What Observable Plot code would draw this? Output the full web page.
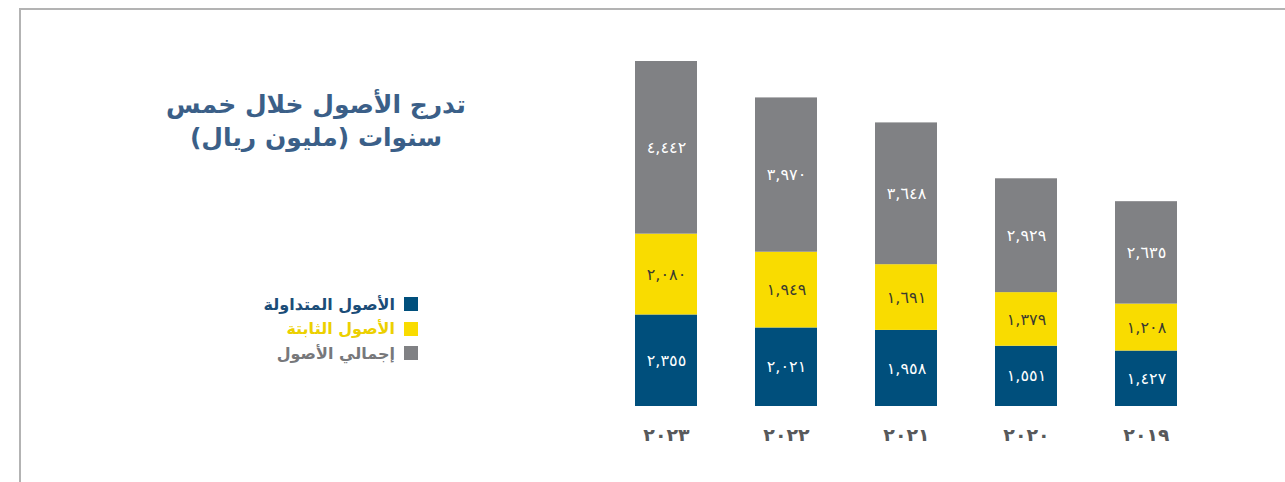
<!DOCTYPE html>
<html lang="ar">
<head>
<meta charset="utf-8">
<script src="https://cdn.jsdelivr.net/npm/d3@7"></script>
<script src="https://cdn.jsdelivr.net/npm/@observablehq/plot@0.6"></script>
<style>
  html, body { margin: 0; padding: 0; background: #fff; }
  body { width: 1285px; height: 482px; position: relative; overflow: hidden; font-family: "DejaVu Sans", sans-serif; }
  #frame { position: absolute; left: 19px; top: 8px; right: -5px; bottom: -5px; border-top: 2px solid #b3b3b3; border-left: 2px solid #b3b3b3; }
  #title { position: absolute; left: 116px; width: 400px; top: 88px; direction: rtl; text-align: center; color: #3b5f88; font-size: 25px; font-weight: bold; line-height: 33px; white-space: nowrap; }
  #legend { position: absolute; right: 867px; top: 292px; direction: rtl; font-size: 16px; font-weight: bold; }
  .lg { display: flex; align-items: center; height: 24.5px; white-space: nowrap; }
  .sw { width: 14px; height: 14px; margin-left: 9px; flex: none; }
  #chart { position: absolute; left: 0; top: 0; }
</style>
</head>
<body>
<div id="frame"></div>
<div id="title"></div>
<div id="legend"></div>
<div id="chart"></div>
<script>
const years = ["2023", "2022", "2021", "2020", "2019"];
const yearLabels = ["٢٠٢٣", "٢٠٢٢", "٢٠٢١", "٢٠٢٠", "٢٠١٩"];
const seriesNames = ["الأصول المتداولة", "الأصول الثابتة", "إجمالي الأصول"];
const seriesColors = ["#004f7c", "#f9dc00", "#808184"];
const legendTextColors = ["#1b4d78", "#ecd000", "#77787b"];
const currentAssets = [2355, 2021, 1958, 1551, 1427];
const fixedAssets = [2080, 1949, 1691, 1379, 1208];
const totalAssets = [4442, 3970, 3648, 2929, 2635];
const titleLines = ["تدرج الأصول خلال خمس", "سنوات (مليون ريال)"];

const arabicDigits = "٠١٢٣٤٥٦٧٨٩";
const toArabic = s => String(s).replace(/[0-9]/g, c => arabicDigits[+c]);
const fmt = v => toArabic(d3.format(",")(v));

const seriesValues = [currentAssets, fixedAssets, totalAssets];
const data = [];
seriesNames.forEach((name, si) => {
  years.forEach((yr, i) => data.push({year: yr, series: name, value: seriesValues[si][i]}));
});
const totals = years.map((_, i) => currentAssets[i] + fixedAssets[i] + totalAssets[i]);

document.getElementById("title").innerHTML = titleLines.map(t => `<div>${t}</div>`).join("");
document.getElementById("legend").innerHTML = seriesNames.map((n, i) =>
  `<div class="lg"><span class="sw" style="background:${seriesColors[i]}"></span><span style="color:${legendTextColors[i]}">${n}</span></div>`).join("");

const stackOpts = {x: "year", y: "value", order: null};
const plot = Plot.plot({
  width: 1285,
  height: 441,
  marginTop: 61,
  marginBottom: 35,
  marginLeft: 574,
  marginRight: 48,
  style: {fontFamily: "DejaVu Sans, sans-serif", background: "transparent"},
  x: {domain: years, padding: 0.487, label: null},
  y: {domain: [0, d3.max(totals)], axis: null},
  color: {domain: seriesNames, range: seriesColors},
  marks: [
    Plot.barY(data, Plot.stackY({...stackOpts, fill: "series"})),
    Plot.text(data, Plot.stackY({...stackOpts, text: d => d.series !== seriesNames[1] ? fmt(d.value) : null, fill: "white", fontSize: 16})),
    Plot.text(data, Plot.stackY({...stackOpts, text: d => d.series === seriesNames[1] ? fmt(d.value) : null, fill: "#3a3a30", fontSize: 16})),
    Plot.axisX({tickSize: 0, tickPadding: 22, fontSize: 19, fontWeight: "bold", fill: "#58595b", tickFormat: d => yearLabels[years.indexOf(d)]})
  ]
});
document.getElementById("chart").appendChild(plot);
</script>
</body>
</html>
